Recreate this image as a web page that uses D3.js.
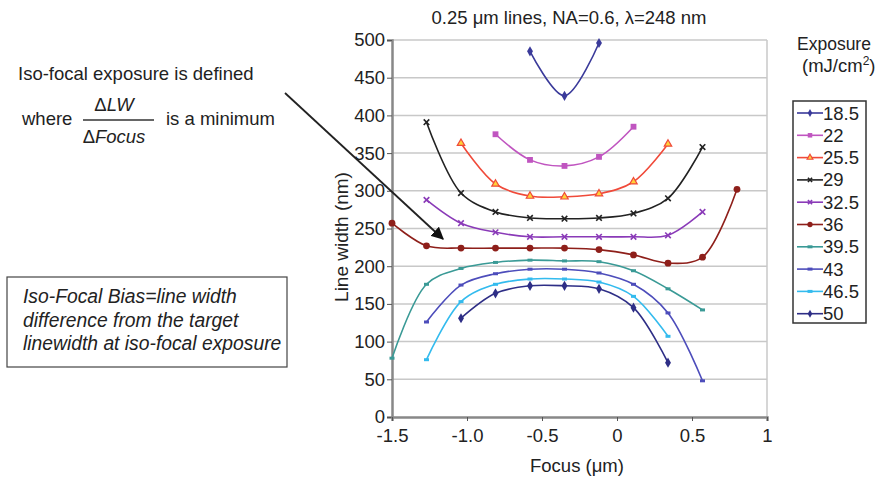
<!DOCTYPE html>
<html lang="en">
<head>
<meta charset="UTF-8">
<title>Iso-focal exposure</title>
<script src="https://d3js.org/d3.v7.min.js"></script>
<style>
  body { margin: 0; background: white; font-family: "Liberation Sans", Arial, Helvetica, sans-serif; }
  svg text { fill: #222; }
</style>
</head>
<body>
<svg id="vis" width="876" height="478"></svg>
<script>
  // focus positions (um) at which the curves were sampled
  const focus = [-1.5, -1.27, -1.04, -0.81, -0.58, -0.35, -0.12, 0.11, 0.34, 0.57, 0.80];
  const exposures = ["18.5", "22", "25.5", "29", "32.5", "36", "39.5", "43", "46.5", "50"];
  // line width (nm) per exposure, null where not measured
  const lw185 = [null, null, null, null, 485, 426, 496, null, null, null, null];
  const lw22 = [null, null, null, 375, 341, 333, 345, 385, null, null, null];
  const lw255 = [null, null, 363, 309, 293, 292, 296, 312, 362, null, null];
  const lw29 = [null, 391, 297, 272, 264, 263, 264, 270, 290, 358, null];
  const lw325 = [null, 288, 257, 245, 239, 239, 239, 239, 241, 272, null];
  const lw36 = [257, 227, 224, 224, 224, 224, 222, 215, 204, 212, 302];
  const lw395 = [78, 176, 197, 205, 208, 207, 206, 194, 170, 142, null];
  const lw43 = [null, 126, 175, 190, 196, 196, 191, 176, 138, 48, null];
  const lw465 = [null, 76, 153, 176, 183, 183, 179, 160, 107, null, null];
  const lw50 = [null, null, 131, 164, 174, 174, 170, 145, 72, null, null];
  const yTicks = [0, 50, 100, 150, 200, 250, 300, 350, 400, 450, 500];
  const xTicks = [-1.5, -1.0, -0.5, 0, 0.5, 1];

  const allSeries = [lw185, lw22, lw255, lw29, lw325, lw36, lw395, lw43, lw465, lw50];
  const colors = ["#3a3a9a", "#c055c0", "#f04a3a", "#222222", "#8a3ab8", "#8e1f1a", "#3a9a96", "#4d4dbb", "#33bbee", "#2e2e86"];
  const markers = ["diamond", "square", "triangle", "cross", "cross", "circle", "dash", "dash", "dash", "diamond"];

  const FS = 18.5;
  const svg = d3.select("#vis");
  const x = d3.scaleLinear().domain([-1.5, 1]).range([392, 767]);
  const y = d3.scaleLinear().domain([0, 500]).range([417, 40]);

  // gridlines
  svg.append("g").selectAll("line").data(yTicks.filter(d => d > 0)).join("line")
    .attr("x1", x(-1.5)).attr("x2", x(1))
    .attr("y1", d => y(d)).attr("y2", d => y(d))
    .attr("stroke", "#c8c8c8").attr("stroke-width", 1.5);
  svg.append("line").attr("x1", x(1)).attr("x2", x(1)).attr("y1", y(500)).attr("y2", y(0))
    .attr("stroke", "#c8c8c8").attr("stroke-width", 1.5);

  // axes
  const yAxis = svg.append("g").attr("transform", `translate(${x(-1.5)},0)`)
    .call(d3.axisLeft(y).tickValues(yTicks).tickSize(5).tickPadding(2));
  const xAxis = svg.append("g").attr("transform", `translate(0,${y(0)})`)
    .call(d3.axisBottom(x).tickValues(xTicks).tickSize(4).tickPadding(8)
      .tickFormat(d => (d === 0 || d === 1 ? d3.format("d")(d) : d3.format(".1f")(d)).replace("\u2212", "-")));
  [yAxis, xAxis].forEach(a => {
    a.select(".domain").attr("stroke", "#888").attr("stroke-width", 2.5);
    a.selectAll(".tick line").attr("stroke", "#555");
    a.selectAll("text").attr("font-size", FS).attr("font-family", "Liberation Sans, Arial").attr("fill", "#222");
  });
  svg.append("text").attr("x", 577).attr("y", 472).attr("text-anchor", "middle")
    .attr("font-size", FS).text("Focus (\u03bcm)");
  svg.append("text").attr("transform", "translate(348,237) rotate(-90)").attr("text-anchor", "middle")
    .attr("font-size", 19).text("Line width (nm)");
  svg.append("text").attr("x", 569).attr("y", 24).attr("text-anchor", "middle")
    .attr("font-size", FS).text("0.25 \u03bcm lines, NA=0.6, \u03bb=248 nm");

  function drawMarker(g, type, color, k) {
    if (type === "diamond") {
      g.append("path").attr("d", d3.symbol(d3.symbolDiamond, 30 * k)()).attr("fill", color);
    } else if (type === "square") {
      g.append("path").attr("d", d3.symbol(d3.symbolSquare, 34 * k)()).attr("fill", color);
    } else if (type === "triangle") {
      g.append("path").attr("d", d3.symbol(d3.symbolTriangle, 24 * k)()).attr("fill", "#ffd23a")
        .attr("stroke", color).attr("stroke-width", 1.2);
    } else if (type === "cross") {
      g.append("path").attr("d", d3.symbol(d3.symbolX, 22 * k)()).attr("fill", "none")
        .attr("stroke", color).attr("stroke-width", 1.6);
    } else if (type === "circle") {
      g.append("circle").attr("r", 3.4 * Math.sqrt(k)).attr("fill", color);
    } else {
      g.append("rect").attr("x", -2.5).attr("y", -1.5).attr("width", 5).attr("height", 3).attr("fill", color);
    }
  }

  const line = d3.line()
    .defined(d => d[1] != null)
    .x(d => x(d[0])).y(d => y(d[1]))
    .curve(d3.curveCatmullRom.alpha(0.5));

  allSeries.forEach((vals, i) => {
    const pts = focus.map((f, j) => [f, vals[j]]).filter(d => d[1] != null);
    svg.append("path").datum(pts).attr("d", line)
      .attr("fill", "none").attr("stroke", colors[i]).attr("stroke-width", 1.6);
    pts.forEach(p => {
      const g = svg.append("g").attr("transform", `translate(${x(p[0])},${y(p[1])})`);
      drawMarker(g, markers[i], colors[i], 1);
    });
  });

  // legend
  svg.append("text").attr("x", 797).attr("y", 50).attr("font-size", 17.5).text("Exposure");
  const lt = svg.append("text").attr("x", 802).attr("y", 72).attr("font-size", FS).text("(mJ/cm");
  lt.append("tspan").attr("dy", -7).attr("font-size", 12).text("2");
  lt.append("tspan").attr("dy", 7).text(")");
  svg.append("rect").attr("x", 793).attr("y", 101).attr("width", 73).attr("height", 222)
    .attr("fill", "white").attr("stroke", "#333").attr("stroke-width", 1.5);
  exposures.forEach((e, i) => {
    const ly = 113 + i * 22.3;
    svg.append("line").attr("x1", 797).attr("x2", 823).attr("y1", ly).attr("y2", ly)
      .attr("stroke", colors[i]).attr("stroke-width", 1.6);
    drawMarker(svg.append("g").attr("transform", `translate(810,${ly})`), markers[i], colors[i], 0.6);
    svg.append("text").attr("x", 823).attr("y", ly + 6.5).attr("font-size", FS).text(e);
  });

  // annotations
  svg.append("text").attr("x", 18).attr("y", 80).attr("font-size", FS).text("Iso-focal exposure is defined");
  svg.append("text").attr("x", 22).attr("y", 125).attr("font-size", FS).text("where");
  svg.append("text").attr("x", 114).attr("y", 111).attr("text-anchor", "middle").attr("font-size", FS)
    .html('\u0394<tspan font-style="italic">LW</tspan>');
  svg.append("line").attr("x1", 83).attr("x2", 154).attr("y1", 120).attr("y2", 120)
    .attr("stroke", "#333").attr("stroke-width", 1.3);
  svg.append("text").attr("x", 114).attr("y", 143).attr("text-anchor", "middle").attr("font-size", FS)
    .html('\u0394<tspan font-style="italic">Focus</tspan>');
  svg.append("text").attr("x", 166).attr("y", 125).attr("font-size", FS).text("is a minimum");

  svg.append("defs").append("marker").attr("id", "arrow").attr("viewBox", "0 0 10 10")
    .attr("refX", 9).attr("refY", 5).attr("markerWidth", 7).attr("markerHeight", 7)
    .attr("orient", "auto").append("path").attr("d", "M0,0L10,5L0,10z").attr("fill", "#111");
  svg.append("line").attr("x1", 285).attr("y1", 93).attr("x2", 443).attr("y2", 239)
    .attr("stroke", "#222").attr("stroke-width", 1.8).attr("marker-end", "url(#arrow)");

  svg.append("rect").attr("x", 7).attr("y", 277).attr("width", 280).attr("height", 90)
    .attr("fill", "white").attr("stroke", "#444").attr("stroke-width", 1.2);
  ["Iso-Focal Bias=line width", "difference from the target", "linewidth at iso-focal exposure"]
    .forEach((t, i) => {
      svg.append("text").attr("x", 23).attr("y", 303 + i * 23.5).attr("font-size", 19.3)
        .attr("font-style", "italic").text(t);
    });
</script>
</body>
</html>
